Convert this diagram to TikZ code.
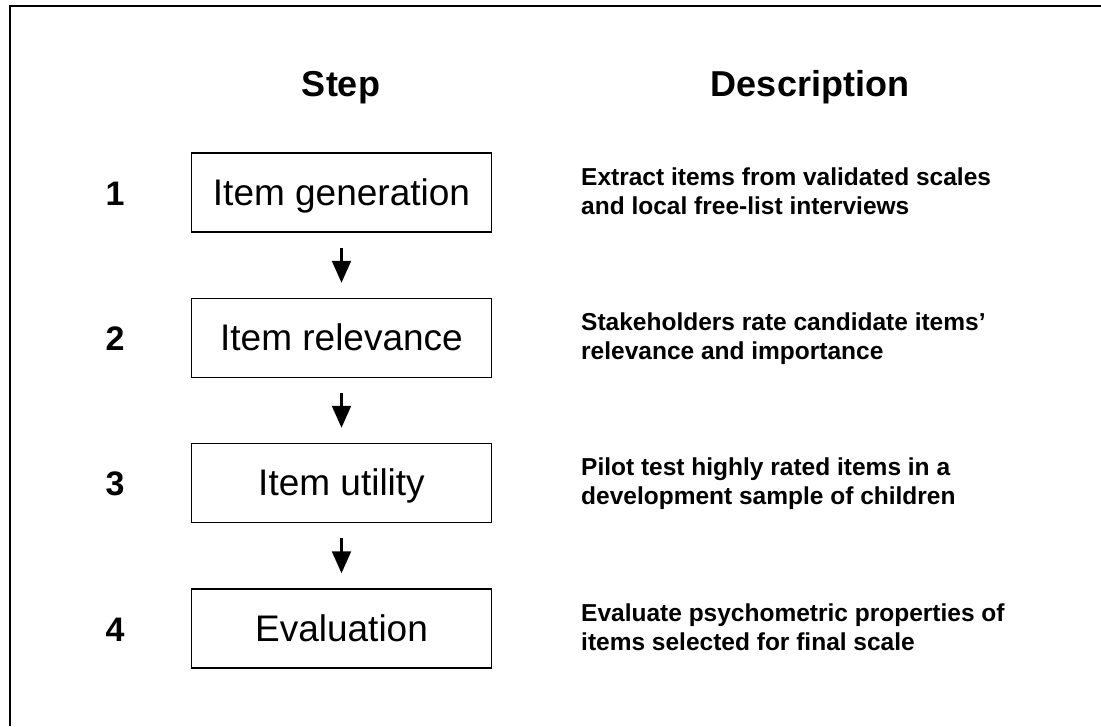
\documentclass[tikz,border=0pt]{standalone}
\usepackage{fontspec}
\setmainfont{Liberation Sans}
\usetikzlibrary{arrows.meta}

\begin{document}
\begin{tikzpicture}[x=1pt, y=-1pt,
    stepbox/.style={draw, line width=1.5pt, minimum width=300pt, minimum height=79pt, inner sep=0pt,
        text height=25pt, text depth=0pt, font=\fontsize{37}{44}\selectfont},
    num/.style={anchor=base, font=\bfseries\fontsize{34}{40}\selectfont},
    head/.style={anchor=base, font=\bfseries\fontsize{36}{42}\selectfont},
    desc/.style={anchor=base west, align=left, inner sep=0pt, font=\bfseries\fontsize{24.5}{29}\selectfont},
    flow/.style={line width=2.2pt, -{Triangle[length=22pt, width=19pt]}, shorten >=15pt, shorten <=15pt}]
    \useasboundingbox (0,0) rectangle (1101,726);
    \draw[line width=2pt] (9.5,726) -- (9.5,5.5) -- (1101,5.5);

    \node[head] (stephead) at (341, 96) {Step};
    \node[head] (deschead) at (810, 96) {Description};

    \node[stepbox] (gen) at (341.5, 192.5) {Item generation};
    \node[stepbox] (rel) at (341.5, 338) {Item relevance};
    \node[stepbox] (util) at (341.5, 483) {Item utility};
    \node[stepbox] (eval) at (341.5, 628.5) {Evaluation};

    \node[num] (n1) at (115, 205) {1};
    \node[num] (n2) at (115, 350.5) {2};
    \node[num] (n3) at (115, 495.5) {3};
    \node[num] (n4) at (115, 641) {4};

    % base anchor sits on the second line
    \node[desc] (d1) at (581, 214) {Extract items from validated scales\\and local free-list interviews};
    \node[desc] (d2) at (581, 359.5) {Stakeholders rate candidate items’\\relevance and importance};
    \node[desc] (d3) at (581, 504.5) {Pilot test highly rated items in a\\development sample of children};
    \node[desc] (d4) at (581, 650) {Evaluate psychometric properties of\\items selected for final scale};

    \draw[flow] (gen) -- (rel);
    \draw[flow] (rel) -- (util);
    \draw[flow] (util) -- (eval);
\end{tikzpicture}
\end{document}
